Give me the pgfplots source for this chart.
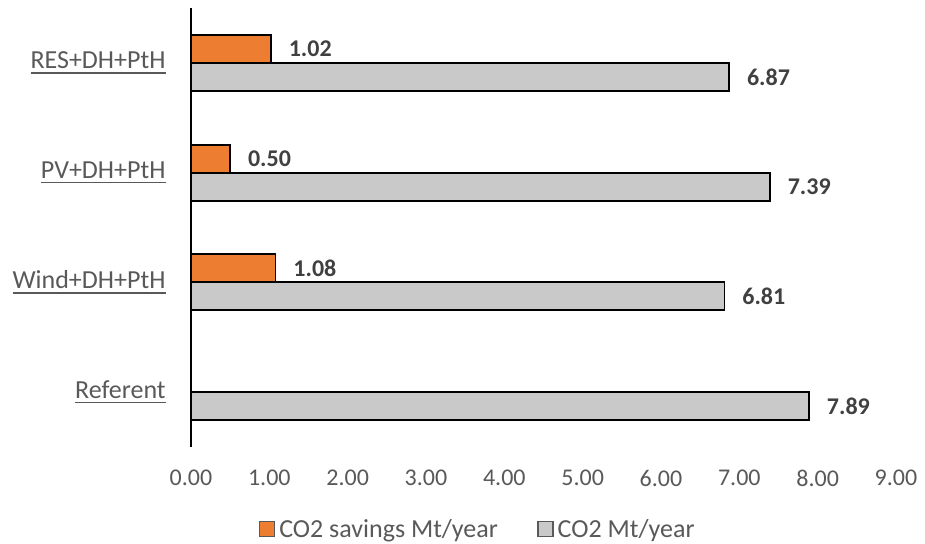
\documentclass[border=0pt]{standalone}
\usepackage{fontspec}
\setmainfont{Carlito}
\usepackage{pgfplots}
\pgfplotsset{compat=1.18}
\definecolor{barorange}{HTML}{ED7D31}
\definecolor{bargray}{HTML}{C9C9C9}
\definecolor{txtgray}{HTML}{595959}
\definecolor{lblgray}{HTML}{404040}
% underlined category label
\newcommand\ulab[1]{\setbox0\hbox{#1}\leavevmode\rlap{\raisebox{-2.4pt}{\rule{\wd0}{0.7pt}}}\box0}
% legend square sitting on the baseline
\newcommand\sqbox[1]{\tikz[baseline=0pt]\draw[fill=#1, line width=0.8pt] (0pt,0.4pt) rectangle (7.6pt,8pt);}
\begin{document}
\begin{tikzpicture}
\begin{axis}[
    scale only axis, width=352.5pt, height=219.5pt,
    clip=false,
    xbar, bar width=14pt,
    xmin=0, xmax=9, ymin=-0.5, ymax=3.5,
    xtick={0,1,...,9},
    ytick={0,1,2,3},
    yticklabels={\ulab{Referent},\ulab{Wind+DH+PtH},\ulab{PV+DH+PtH},\ulab{RES+DH+PtH}},
    axis lines*=left,
    x axis line style={draw=none},
    y axis line style={black, line width=0.9pt},
    major tick length=0pt,
    /pgf/number format/fixed,
    /pgf/number format/fixed zerofill,
    /pgf/number format/precision=2,
    /pgf/number format/assume math mode=true,
    xticklabel style={font=\fontsize{12}{14}\selectfont, text=txtgray, inner sep=0pt, anchor=north, yshift=-11.5pt},
    yticklabel style={font=\fontsize{13}{15}\selectfont, text=txtgray, inner sep=0pt, anchor=east, xshift=-12.5pt},
    nodes near coords,
    nodes near coords style={font=\bfseries\fontsize{12}{14}\selectfont, text=lblgray, anchor=west, inner sep=0pt, xshift=8.5pt},
]
\addplot[fill=barorange, draw=black, line width=0.9pt, bar shift=7pt]
    coordinates {(1.08,1) (0.50,2) (1.02,3)};
\addplot[fill=bargray, draw=black, line width=0.9pt, bar shift=-7pt]
    coordinates {(7.89,0) (6.81,1) (7.39,2) (6.87,3)};
% legend
\node[anchor=base, inner sep=0pt, text=txtgray, font=\fontsize{13}{15}\selectfont]
    at (axis description cs:0.405,-0.206)
    {\sqbox{barorange}\hspace{2pt}CO2 savings Mt/year\hspace{19.5pt}\sqbox{bargray}\hspace{2pt}CO2 Mt/year};
\end{axis}
\pgfresetboundingbox
\path (-95.5pt,-48.5pt) rectangle (367pt,223.5pt);
\end{tikzpicture}
\end{document}
